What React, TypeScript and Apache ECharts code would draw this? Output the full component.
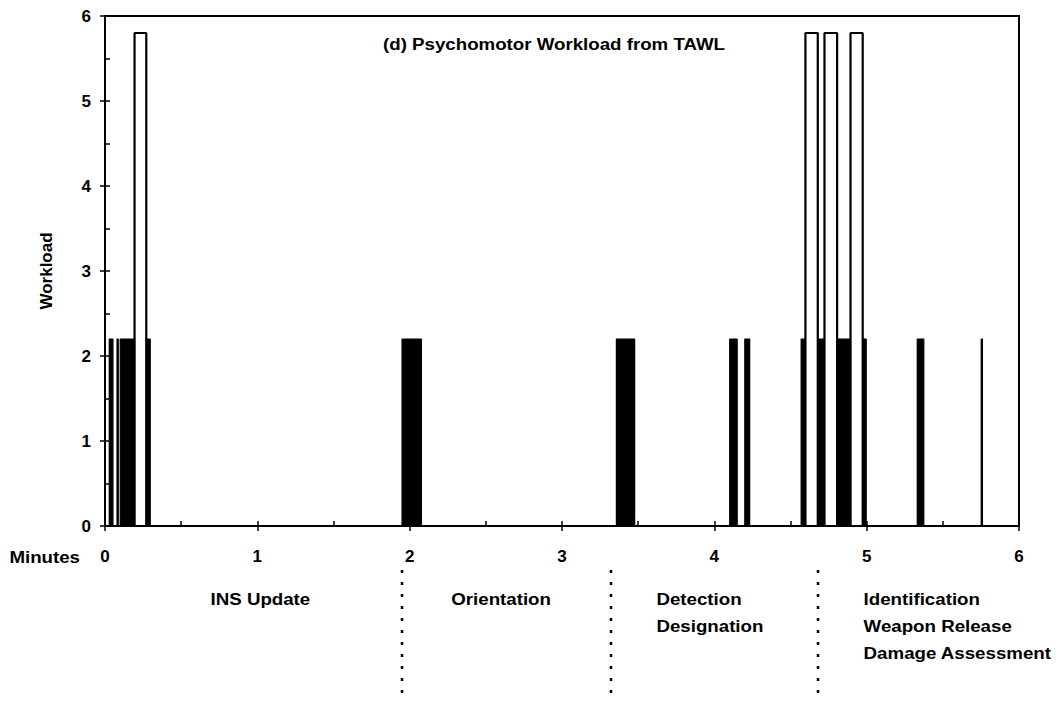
import React, { useEffect, useRef } from "react";
import * as echarts from "echarts";

// Dense bursts of activity (workload toggles rapidly 0 <-> 2.2), minutes
const denseStart = [0.028, 0.079, 0.1, 0.271, 1.95, 3.357, 4.101, 4.2, 4.57, 4.679, 4.806, 4.974, 5.332, 5.752];
const denseEnd = [0.052, 0.087, 0.194, 0.297, 2.077, 3.477, 4.15, 4.232, 4.598, 4.723, 4.894, 4.997, 5.375, 5.76];
const denseLevel = 2.2;

// Tall hollow spikes, minutes
const peakStart = [0.194, 4.598, 4.723, 4.894];
const peakEnd = [0.271, 4.679, 4.806, 4.974];
const peakLevel = 5.8;

const xMin = 0;
const xMax = 6;
const yMin = 0;
const yMax = 6;

const phaseBoundaries = [1.95, 3.32, 4.68];
const phaseLabelText = [["INS Update"], ["Orientation"], ["Detection", "Designation"], ["Identification", "Weapon Release", "Damage Assessment"]];
const phaseLabelAt = [1.02, 2.6, 3.62, 4.98];
const phaseLabelAlign = ["center", "center", "left", "left"];

const titleText = "(d) Psychomotor Workload from TAWL";
const xName = "Minutes";
const yName = "Workload";

const FONT = '"Liberation Sans", Arial, Helvetica, sans-serif';
const STRETCH = 1.1;

function pulses(starts: number[], ends: number[], level: number): number[][] {
  const out: number[][] = [];
  for (let i = 0; i < starts.length; i++) {
    out.push([starts[i], 0], [starts[i], level], [ends[i], level], [ends[i], 0]);
  }
  return out;
}

export default function App() {
  const ref = useRef<HTMLDivElement>(null);
  useEffect(() => {
    document.body.style.margin = "0";
    const chart = echarts.init(ref.current!, undefined, { renderer: "svg" });
    const labelStyle = { color: "#000", fontFamily: FONT, fontWeight: "bold" as const, fontSize: 17 };
    const baseX = { type: "value" as const, min: xMin, max: xMax, interval: 1, splitLine: { show: false } };
    const baseY = { type: "value" as const, min: yMin, max: yMax, interval: 1, splitLine: { show: false } };
    chart.setOption({
      animation: false,
      backgroundColor: "#fff",
      grid: { left: 105, right: 39, top: 16, bottom: 179, show: true, borderColor: "#000", borderWidth: 2, containLabel: false },
      xAxis: [
        {
          ...baseX,
          position: "bottom",
          axisLine: { show: true, lineStyle: { color: "#000", width: 2 } },
          axisTick: { show: true, inside: false, length: 5, lineStyle: { color: "#000", width: 1.5 } },
          axisLabel: { ...labelStyle, margin: 22 },
        },
        {
          ...baseX,
          position: "bottom",
          axisLine: { show: false },
          axisLabel: { show: false },
          axisTick: { show: true, inside: true, length: 5, lineStyle: { color: "#000", width: 1.5 } },
          minorTick: { show: true, splitNumber: 2, length: 5, lineStyle: { color: "#000", width: 1.5 } },
        },
      ],
      yAxis: [
        {
          ...baseY,
          position: "left",
          axisLine: { show: true, lineStyle: { color: "#000", width: 2 } },
          axisTick: { show: true, inside: false, length: 5, lineStyle: { color: "#000", width: 1.5 } },
          axisLabel: { ...labelStyle, margin: 14 },
          name: yName,
          nameLocation: "middle",
          nameGap: 50,
          nameTextStyle: { ...labelStyle },
        },
        {
          ...baseY,
          position: "left",
          axisLine: { show: false },
          axisLabel: { show: false },
          axisTick: { show: true, inside: true, length: 5, lineStyle: { color: "#000", width: 1.5 } },
          minorTick: { show: true, splitNumber: 2, length: 5, lineStyle: { color: "#000", width: 1.5 } },
        },
      ],
      series: [
        {
          name: "dense",
          type: "line",
          data: pulses(denseStart, denseEnd, denseLevel),
          showSymbol: false,
          lineStyle: { color: "#000", width: 1.2 },
          areaStyle: { color: "#000", opacity: 1 },
          silent: true,
        },
        {
          name: "peaks",
          type: "line",
          data: pulses(peakStart, peakEnd, peakLevel),
          showSymbol: false,
          lineStyle: { color: "#000", width: 2.2 },
          silent: true,
        },
      ],
    });

    const axisY = chart.convertToPixel({ yAxisIndex: 0 }, 0) as number;
    const graphics: any[] = [
      {
        type: "text",
        x: 554,
        y: 44,
        scaleX: STRETCH,
        style: { text: titleText, fill: "#000", font: `bold 17px ${FONT}`, align: "center", verticalAlign: "middle" },
      },
      {
        type: "text",
        x: 80,
        y: axisY + 31,
        scaleX: STRETCH,
        style: { text: xName, fill: "#000", font: `bold 17px ${FONT}`, align: "right", verticalAlign: "middle" },
      },
    ];
    phaseBoundaries.forEach((m) => {
      const px = Math.round(chart.convertToPixel({ xAxisIndex: 0 }, m) as number);
      graphics.push({
        type: "line",
        shape: { x1: px, y1: axisY + 44, x2: px, y2: axisY + 174 },
        style: { stroke: "#000", lineWidth: 2.5, lineDash: [3, 9] },
      });
    });
    phaseLabelText.forEach((lines, i) => {
      const px = chart.convertToPixel({ xAxisIndex: 0 }, phaseLabelAt[i]) as number;
      graphics.push({
        type: "text",
        x: px,
        y: axisY + 60,
        scaleX: STRETCH,
        style: {
          text: lines.join("\n"),
          fill: "#000",
          font: `bold 17px ${FONT}`,
          lineHeight: 27,
          align: phaseLabelAlign[i],
          verticalAlign: "top",
        },
      });
    });
    chart.setOption({ graphic: graphics });

    return () => chart.dispose();
  }, []);
  return <div ref={ref} style={{ position: "absolute", left: 0, top: 0, width: 1058, height: 705 }} />;
}
